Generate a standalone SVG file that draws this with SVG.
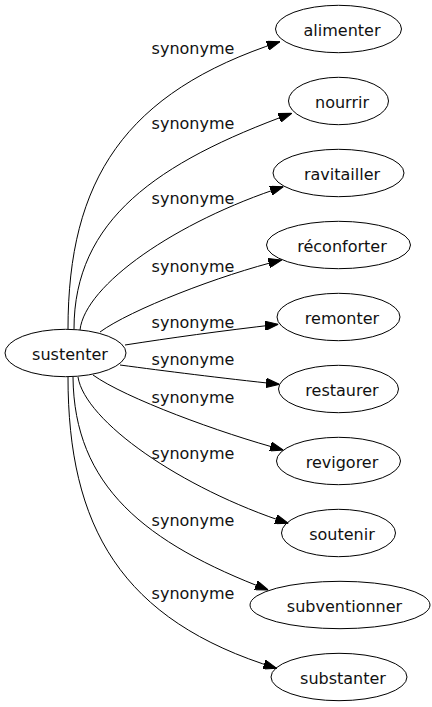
<svg xmlns="http://www.w3.org/2000/svg" width="432" height="707" viewBox="0 0 432 707">
<defs>
<style>
.node ellipse{fill:none;stroke:#000;stroke-width:1}
.node text{font-family:"DejaVu Sans",sans-serif;font-size:16px;fill:#111;text-anchor:middle}
.edges path{fill:none;stroke:#000;stroke-width:1}
.edges text{font-family:"DejaVu Sans",sans-serif;font-size:16px;fill:#111;text-anchor:middle}
</style>
<marker id="arr" viewBox="0 0 13.3 9.4" refX="13.3" refY="4.7" markerWidth="13.3" markerHeight="9.4" markerUnits="userSpaceOnUse" orient="auto">
<path d="M0,0 L13.3,4.7 L0,9.4 Z" fill="#000" stroke="#000" stroke-width="1"/>
</marker>
</defs>
<rect width="432" height="707" fill="#fff"/>
<g class="edges" id="connectors">
<path d="M68,329 C68,180 124.8,92.2 280,41.7" marker-end="url(#arr)"/>
<text x="193" y="54">synonyme</text>
<path d="M74,329 C74,220 157,162.4 291.7,113.3" marker-end="url(#arr)"/>
<text x="193" y="129">synonyme</text>
<path d="M80,330 C85,285 175.6,221.7 283.3,186.7" marker-end="url(#arr)"/>
<text x="193" y="204">synonyme</text>
<path d="M100,332 C130,310 220,275 281.7,260" marker-end="url(#arr)"/>
<text x="193" y="272">synonyme</text>
<path d="M125,345 C170,338 220,331 278.3,324.3" marker-end="url(#arr)"/>
<text x="193" y="328">synonyme</text>
<path d="M120,365 C165,371 220,378 279.3,384.3" marker-end="url(#arr)"/>
<text x="193" y="365">synonyme</text>
<path d="M93,375 C125,398 220,433 283.3,450" marker-end="url(#arr)"/>
<text x="193" y="402.5">synonyme</text>
<path d="M78,377 C85,421 180,488 288.3,523.3" marker-end="url(#arr)"/>
<text x="193" y="459">synonyme</text>
<path d="M73,377 C74,486 145,543 268.3,590" marker-end="url(#arr)"/>
<text x="193" y="526">synonyme</text>
<path d="M68,377 C68,526 120.6,620.6 276.7,668.3" marker-end="url(#arr)"/>
<text x="193" y="599">synonyme</text>
</g>
<g class="node" id="sustenter"><ellipse cx="65.5" cy="353" rx="60.5" ry="23.7"/><text x="70" y="359.5">sustenter</text></g>
<g class="node" id="alimenter"><ellipse cx="338.5" cy="29" rx="63" ry="23.7"/><text x="342" y="35.5">alimenter</text></g>
<g class="node" id="nourrir"><ellipse cx="338.5" cy="101" rx="50" ry="23.7"/><text x="342" y="107.5">nourrir</text></g>
<g class="node" id="ravitailler"><ellipse cx="338.5" cy="173" rx="65.5" ry="23.7"/><text x="342" y="179.5">ravitailler</text></g>
<g class="node" id="reconforter"><ellipse cx="338.5" cy="245" rx="72" ry="23.7"/><text x="342" y="251.5">réconforter</text></g>
<g class="node" id="remonter"><ellipse cx="338.5" cy="317" rx="61.5" ry="23.7"/><text x="342" y="323.5">remonter</text></g>
<g class="node" id="restaurer"><ellipse cx="338.5" cy="389" rx="60" ry="23.7"/><text x="342" y="395.5">restaurer</text></g>
<g class="node" id="revigorer"><ellipse cx="338.5" cy="461" rx="62" ry="23.7"/><text x="342" y="467.5">revigorer</text></g>
<g class="node" id="soutenir"><ellipse cx="338.5" cy="533" rx="57" ry="23.7"/><text x="342" y="539.5">soutenir</text></g>
<g class="node" id="subventionner"><ellipse cx="340" cy="605" rx="90" ry="23.7"/><text x="344.5" y="611.5">subventionner</text></g>
<g class="node" id="substanter"><ellipse cx="339" cy="677" rx="68" ry="23.7"/><text x="343" y="683.5">substanter</text></g>
</svg>
